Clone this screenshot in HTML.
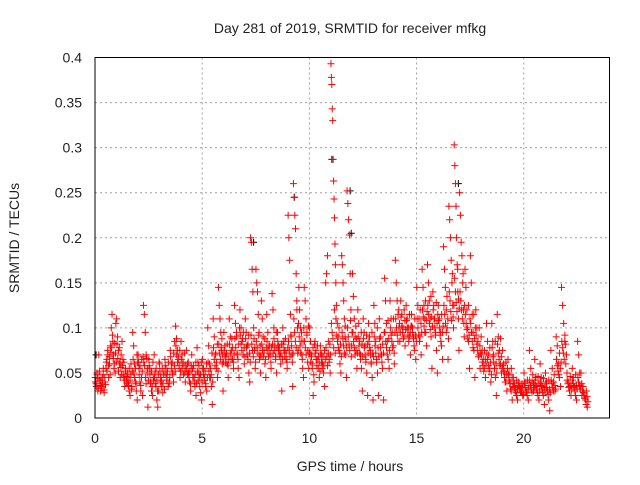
<!DOCTYPE html>
<html><head><meta charset="utf-8"><style>
body{margin:0;background:#fff}
svg text{font-family:"Liberation Sans",sans-serif;font-size:14px;fill:#222}
</style></head><body>
<svg id="chart" width="640" height="480" xmlns="http://www.w3.org/2000/svg">
<rect width="640" height="480" fill="#fff"/>
<text x="350" y="33" text-anchor="middle">Day 281 of 2019, SRMTID for receiver mfkg</text>
<text x="350" y="471" text-anchor="middle">GPS time / hours</text>
<text x="19" y="238" text-anchor="middle" transform="rotate(-90 19 238)">SRMTID / TECUs</text>
<g id="grid"></g>
<g id="ticks"></g>
<g id="marks"></g>
<rect x="95" y="57.5" width="514.5" height="360.5" fill="none" stroke="#000" stroke-width="1"/>
</svg>
<script>
const xTicks=[0,5,10,15,20];
const yTicks=[0,0.05,0.1,0.15,0.2,0.25,0.3,0.35,0.4];
const yTickLabels=["0","0.05","0.1","0.15","0.2","0.25","0.3","0.35","0.4"];
const binStart=0;
const binWidth=0.25;
// values in thousandths of TECU, per 0.25h bin
const bins=[
[45,38,50,30,70,42],[30,35,45,55,28,40],[55,65,75,45,60,80],[100,115,85,70,60,50,105],
[110,90,75,60,45,70],[85,65,45,35,55,40],[50,40,30,25,60,35],[95,80,60,40,30,20],
[70,55,40,30,65,25],[125,115,95,70,50,12],[65,55,40,30,25,45],[70,50,35,20,12,30],
[60,45,35,28,50],[65,55,45,35,40],[75,60,50,40,85],[102,88,75,65,55,45],
[85,70,60,50,40],[75,60,50,40,30],[70,55,45,35,25],[78,62,50,35,28,20],
[65,55,45,35,30],[100,80,60,45,35,15],[110,90,70,55,45],[145,125,110,95,75,60,30],
[95,80,70,60,45],[110,90,75,65,55],[125,105,90,70,55,45],[120,100,85,70,60],
[110,95,80,65,50,40],[200,195,165,140,100,75,55],[165,150,140,115,95,70,50],[130,110,90,75,60,45],
[115,95,80,70,55],[138,120,100,80,65,50],[95,80,70,60,30],[100,85,75,65,55],
[225,200,175,115,90,70,35],[260,245,225,210,160,130,100,75],[145,120,100,85,70,55,45],[145,130,110,95,75,55],
[100,85,70,60,25,40],[85,75,65,55,45],[80,70,60,50,35],[150,160,180,85,65,50],
[393,378,370,343,330,287,263,243,222,193,170,150],[125,105,90,75,60,50],[180,170,150,130,110,90,70,45],[252,238,220,203,160,120,80],
[160,135,110,90,75,55],[120,105,85,70,55,30],[110,95,80,65,50,25],[105,90,75,60,45,20],
[125,105,85,65,50,25],[110,90,70,55,20],[155,130,105,85,65,55],[130,110,95,80,60],
[175,150,130,115,100,85],[130,115,100,90,80],[125,110,100,90,70],[115,100,90,75,65],
[145,125,110,90,70],[165,145,125,110,95,80],[170,150,130,110,90,55],[140,125,110,95,75,50],
[125,110,95,80,65],[190,165,145,120,100,65],[235,220,200,175,150,125,100],[303,280,260,235,200,170,140,110,75],
[250,225,195,180,150,120,90],[165,145,120,100,85,55],[180,150,115,95,75,45],[120,100,85,70,55],
[90,75,65,55,45],[105,85,70,55,40],[105,85,70,55,45,25],[115,90,75,60,50],
[75,60,50,40,30],[65,50,40,30,20],[45,38,30,25,20],[40,35,30,25],
[50,40,30,25,20],[75,55,40,30],[65,45,35,25,20],[60,45,35,25,15],
[50,40,30,20,8],[75,55,40,30],[90,80,60,45,35],[145,125,105,85,60],
[50,40,35,25],[55,45,35,25,20],[85,70,50,35,25],[35,28,22,15,12]
];
// additional core-density values per bin (thousandths)
const bins2=[
[40,35,48,44,33,52,36],[42,33,38,48,31,45,37],[62,52,70,58,68,48,73],[78,92,66,55,83,72,62],
[82,66,52,78,62,56,48],[58,48,62,42,52,46,38],[45,36,55,42,48,32,52],[65,50,45,55,38,70,62],
[62,48,58,36,45,52,68],[62,58,45,38,66,55,42],[58,48,38,52,35,62,42],[45,38,55,42,30,48,62],
[52,40,42,55,38,48,32],[58,48,42,52,62,38,45],[68,55,62,48,72,58,52],[80,70,62,68,58,75,52],
[65,55,62,48,72,58,52],[55,48,62,45,52,38,58],[52,45,58,40,48,62,38],[52,42,58,45,48,62,40],
[55,48,42,52,38,60,45],[62,52,45,55,48,72,40],[78,65,58,72,62,82,52],[82,72,65,78,88,70,62],
[75,68,62,72,82,58,65],[82,72,65,88,78,62,70],[88,78,95,72,65,82,100],[92,82,75,88,95,78,68],
[88,78,70,82,92,72,62],[92,82,75,68,88,78,62],[85,78,72,92,65,80,68],[82,75,68,72,88,65,78],
[85,75,68,80,72,62,78],[82,72,88,75,68,95,78],[85,75,78,68,72,82,65],[82,75,68,88,72,62,78],
[85,75,68,92,80,62,72],[110,95,85,78,120,72,105],[90,80,72,95,65,85,100],[85,78,70,92,62,102,72],
[72,62,68,55,78,48,82],[72,65,58,80,68,62,52],[72,62,55,68,58,75,65],[78,68,58,72,62,82,70],
[105,95,88,78,120,72,110],[92,85,78,100,72,82,68],[95,88,80,72,102,85,78],[100,90,82,75,108,68,95],
[95,85,78,70,102,88,72],[90,80,72,65,95,82,68],[88,78,70,62,92,82,72],[85,78,70,62,95,72,68],
[90,80,72,62,100,78,68],[88,78,70,62,82,72,95],[95,85,78,70,108,88,75],[100,92,85,78,110,72,95],
[110,100,92,85,120,105,95],[112,102,95,88,120,108,98],[108,100,92,85,115,95,102],[102,95,88,80,110,92,85],
[110,100,92,85,120,105,95],[120,112,102,95,130,108,118],[125,115,105,98,135,112,102],[120,110,100,92,128,105,115],
[108,100,92,85,115,95,102],[125,115,105,95,135,110,88],[140,130,118,108,160,112,125],[155,140,128,118,165,132,122],
[140,130,120,110,160,105,125],[115,105,98,88,125,92,110],[105,95,85,78,115,88,100],[92,82,75,68,100,80,72],
[70,62,58,52,75,65,60],[72,65,58,52,78,62,48],[78,68,62,55,85,60,50],[82,72,65,58,88,68,55],
[58,52,45,40,62,48,55],[48,42,38,32,55,45,35],[38,34,30,28,42,32,36],[36,32,30,28,38,34,26],
[38,34,30,28,42,32,36],[42,36,32,28,48,38,34],[42,36,32,28,46,38,30],[40,36,32,28,44,34,30],
[38,34,30,26,42,32,28],[42,38,34,30,48,36,32],[65,58,52,48,72,55,62],[85,78,72,65,92,82,70],
[42,38,34,30,46,36,32],[42,38,34,30,48,36,32],[45,40,36,32,50,38,30],[28,25,22,20,30,24,18]
];
const blackTimes=[0.05,11.05,11.9,11.95,7.4,16.95,9.3];
const blackValues=[0.07,0.287,0.252,0.205,0.195,0.26,0.245];

const X=h=>95+h*21.4375;
const Y=v=>418-v*901.25;
const NS="http://www.w3.org/2000/svg";
const grid=document.getElementById('grid'),ticks=document.getElementById('ticks'),marks=document.getElementById('marks');
function mk(tag,attrs,parent){const e=document.createElementNS(NS,tag);for(const k in attrs)e.setAttribute(k,attrs[k]);parent.appendChild(e);return e;}
xTicks.forEach(t=>{
  const x=X(t);
  if(t>0){const g=mk('line',{x1:x,y1:57.5,x2:x,y2:418,stroke:'#a0a0a0','stroke-dasharray':'2,3'},grid);
  
  }
  const l=mk('text',{x:x,y:443,'text-anchor':'middle'},ticks);l.textContent=t;
  
  
});
yTicks.forEach((t,i)=>{
  const y=Y(t);
  if(t>0&&t<0.4){const g=mk('line',{x1:95,y1:y,x2:609.5,y2:y,stroke:'#a0a0a0','stroke-dasharray':'2,3'},grid);
  
  }
  const l=mk('text',{x:82,y:y+5,'text-anchor':'end'},ticks);l.textContent=yTickLabels[i];
  
  
});
function plus(h,v,color,name){
  const x=X(h),y=Y(v);
  const p=mk('path',{d:`M${x-3.5} ${y}H${x+3.5}M${x} ${y-3.5}V${y+3.5}`,stroke:color,'stroke-width':1,fill:'none'},marks);
  
  
}
blackTimes.forEach((t,i)=>plus(t,blackValues[i],'#000','point-black'));
[bins,bins2].forEach((set,s)=>{
  set.forEach((vals,b)=>{
    vals.forEach((v,i)=>{
      const h=binStart+b*binWidth+(i+0.25+s*0.5)/vals.length*binWidth;
      plus(h,v/1000,'#f00','point');
    });
  });
});
</script>
</body></html>
